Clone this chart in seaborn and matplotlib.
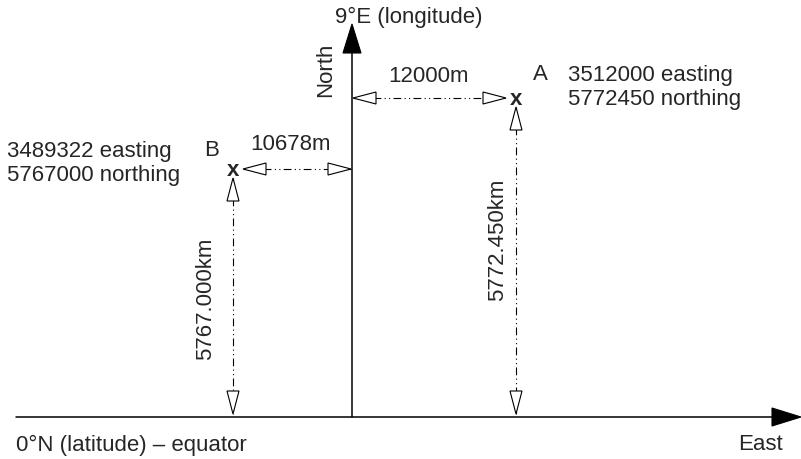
import matplotlib
matplotlib.use("Agg")
import matplotlib.pyplot as plt
import seaborn as sns

# Coordinates of the two points (UTM style, 9°E central meridian)
point_names = ["A", "B"]
easting_m = [3512000, 3489322]
northing_m = [5772450, 5767000]
central_easting = 3500000

# Schematic layout (diagram units = pixels, origin at meridian/equator crossing)
point_pos = {"A": (164, 319), "B": (-119, 248)}
coord_text_pos = {"A": (216, 343, "left"), "B": (-345, 267, "left")}
name_text_pos = {"A": (188, 343), "B": (-140, 267)}
east_label_pos = {"A": (76, 342), "B": (-62, 274)}
north_label_pos = {"A": (146, 178), "B": (-146, 119)}

sns.set_theme(style="white")
plt.rcParams["font.family"] = ["Liberation Sans", "DejaVu Sans"]
FS = 16


def open_head(ax, tip, direction, length=23, half=6):
    tx, ty = tip
    dx, dy = direction
    bx, by = tx - dx * length, ty - dy * length
    px, py = -dy * half, dx * half
    ax.fill([tx, bx + px, bx - px], [ty, by + py, by - py],
            facecolor="white", edgecolor="black", lw=0.8, zorder=4)


def solid_head(ax, tip, direction, length=29, half=9):
    tx, ty = tip
    dx, dy = direction
    bx, by = tx - dx * length, ty - dy * length
    px, py = -dy * half, dx * half
    ax.fill([tx, bx + px, bx - px], [ty, by + py, by - py],
            facecolor="black", edgecolor="black", lw=0.8, zorder=4)


def dim_line(ax, p0, p1):
    ax.plot([p0[0], p1[0]], [p0[1], p1[1]], color="black", lw=0.8,
            linestyle=(0, (7, 3, 1, 3, 1, 3)), zorder=3)
    dx, dy = p1[0] - p0[0], p1[1] - p0[1]
    n = (dx ** 2 + dy ** 2) ** 0.5
    dx, dy = dx / n, dy / n
    open_head(ax, p1, (dx, dy))
    open_head(ax, p0, (-dx, -dy))


fig = plt.figure(figsize=(8.01, 4.60), dpi=100)
fig.patch.set_facecolor("white")
ax = fig.add_axes([0, 0, 1, 1])
ax.set_xlim(-352, 449)
ax.set_ylim(-42, 418)
ax.axis("off")

# axes: equator and central meridian
x_tip, y_tip = 449, 393
ax.plot([-336, x_tip - 25], [0, 0], color="black", lw=1.1, zorder=2)
ax.plot([0, 0], [0, y_tip - 25], color="black", lw=1.1, zorder=2)
solid_head(ax, (x_tip, 0), (1, 0))
solid_head(ax, (0, y_tip), (0, 1))

ax.text(-17, 401, "9°E (longitude)", fontsize=FS, ha="left", va="center")
ax.text(-26, 348, "North", fontsize=FS, rotation=90, ha="center", va="center")
ax.text(-336, -27, "0°N (latitude) – equator", fontsize=FS, ha="left", va="center")
ax.text(431, -27, "East", fontsize=FS, ha="right", va="center")

gap_x, gap_y = 10, 9
for name, e, n in zip(point_names, easting_m, northing_m):
    px, py = point_pos[name]
    side = 1 if px > 0 else -1
    ax.text(px, py - 6, "x", fontsize=FS, fontweight="bold",
            ha="center", va="baseline", zorder=5)
    # east-west distance from meridian
    dim_line(ax, (side * 1, py), (px - side * gap_x, py))
    # north distance from equator
    dim_line(ax, (px, py - gap_y), (px, 3))

    offset = e - central_easting
    lx, ly = east_label_pos[name]
    ax.text(lx, ly, f"{abs(offset)}m", fontsize=FS, ha="center", va="center")
    nx, ny = north_label_pos[name]
    ax.text(nx, ny, f"{n / 1000:.3f}km", fontsize=FS, rotation=90,
            ha="center", va="center")
    tx, ty = name_text_pos[name]
    ax.text(tx, ty, name, fontsize=FS, ha="center", va="center")
    cx, cy, ha = coord_text_pos[name]
    ax.text(cx, cy, f"{e} easting", fontsize=FS, ha=ha, va="center")
    ax.text(cx, cy - 24, f"{n} northing", fontsize=FS, ha=ha, va="center")

fig.savefig("out.png", dpi=100, facecolor="white")
